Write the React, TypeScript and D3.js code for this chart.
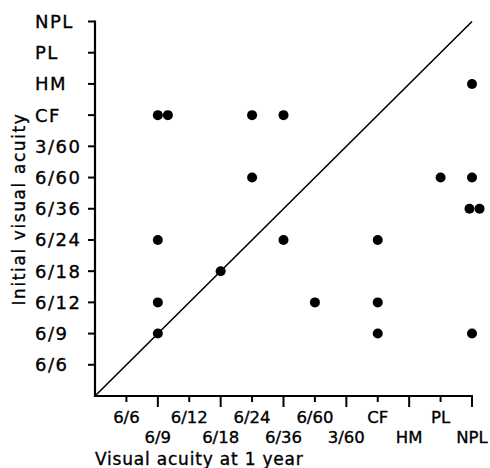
import React from "react";
import * as d3 from "d3";

const categories = ["6/6", "6/9", "6/12", "6/18", "6/24", "6/36", "6/60", "3/60", "CF", "HM", "PL", "NPL"];
// final (1 year) acuity, initial acuity, small horizontal offset (in category units) for overlapping dots
const finalAcuity = ["6/9", "6/9", "6/24", "6/36", "NPL", "6/24", "PL", "NPL", "NPL", "NPL", "6/9", "6/36", "CF", "6/18", "6/9", "6/60", "CF", "6/9", "CF", "NPL"];
const initialAcuity = ["CF", "CF", "CF", "CF", "HM", "6/60", "6/60", "6/60", "6/36", "6/36", "6/24", "6/24", "6/24", "6/18", "6/12", "6/12", "6/12", "6/9", "6/9", "6/9"];
const jitter = [0, 0.32, 0, 0, 0, 0, 0, 0, -0.08, 0.24, 0, 0, 0, 0, 0, 0, 0, 0, 0, 0];

const xTitle = "Visual acuity at 1 year";
const yTitle = "Initial visual acuity";

export default function App() {
  const W = 490, H = 468;
  const x = d3.scaleLinear().domain([0, 12]).range([95, 472]);
  const y = d3.scaleLinear().domain([0, 12]).range([396, 21.5]);
  const idx = (c: string) => categories.indexOf(c) + 1;
  const font = "'DejaVu Sans', sans-serif";
  const line = d3.line<[number, number]>().x(d => x(d[0])).y(d => y(d[1]));
  const txt = { fill: "#000", stroke: "#000", strokeWidth: 0.35 };

  return (
    <svg width={W} height={H} style={{ position: "absolute", left: 0, top: 0, background: "#fff" }}>
      <rect width={W} height={H} fill="#fff" />
      {/* axes */}
      <line x1={x(0)} x2={x(0)} y1={y(0) + 1} y2={y(12) - 1} stroke="#000" strokeWidth={2.2} />
      <line x1={x(0) - 1} x2={x(12) + 1} y1={y(0)} y2={y(0)} stroke="#000" strokeWidth={2.2} />
      {/* y ticks */}
      {categories.map((c, i) => (
        <g key={"yt" + c}>
          <line x1={x(0) - 7} x2={x(0)} y1={y(i + 1)} y2={y(i + 1)} stroke="#000" strokeWidth={2} />
          <text x={35} y={y(i + 1)} dy="0.36em" fontFamily={font} fontSize={18} style={{ letterSpacing: "1.5px" }} {...txt}>{c}</text>
        </g>
      ))}
      {/* x ticks */}
      {categories.map((c, i) => {
        const lower = i % 2 === 1;
        return (
          <g key={"xt" + c}>
            <line x1={x(i + 1)} x2={x(i + 1)} y1={y(0)} y2={y(0) + (lower ? 11 : 6)} stroke="#000" strokeWidth={2} />
            <text x={x(i + 1)} y={lower ? 443 : 423} textAnchor="middle" fontFamily={font} fontSize={16.5} {...txt}>{c}</text>
          </g>
        );
      })}
      {/* diagonal */}
      <path d={line([[0, 0], [12, 12]]) || ""} stroke="#000" strokeWidth={1.6} fill="none" />
      {/* points */}
      {finalAcuity.map((f, i) => (
        <circle key={"p" + i} cx={x(idx(f) + jitter[i])} cy={y(idx(initialAcuity[i]))} r={5} fill="#000" />
      ))}
      {/* titles */}
      <text x={95} y={465} fontFamily={font} fontSize={17} style={{ letterSpacing: "0.8px" }} {...txt}>{xTitle}</text>
      <text transform={`translate(25,209) rotate(-90)`} textAnchor="middle" fontFamily={font} fontSize={17} style={{ letterSpacing: "1.6px" }} {...txt}>{yTitle}</text>
    </svg>
  );
}
